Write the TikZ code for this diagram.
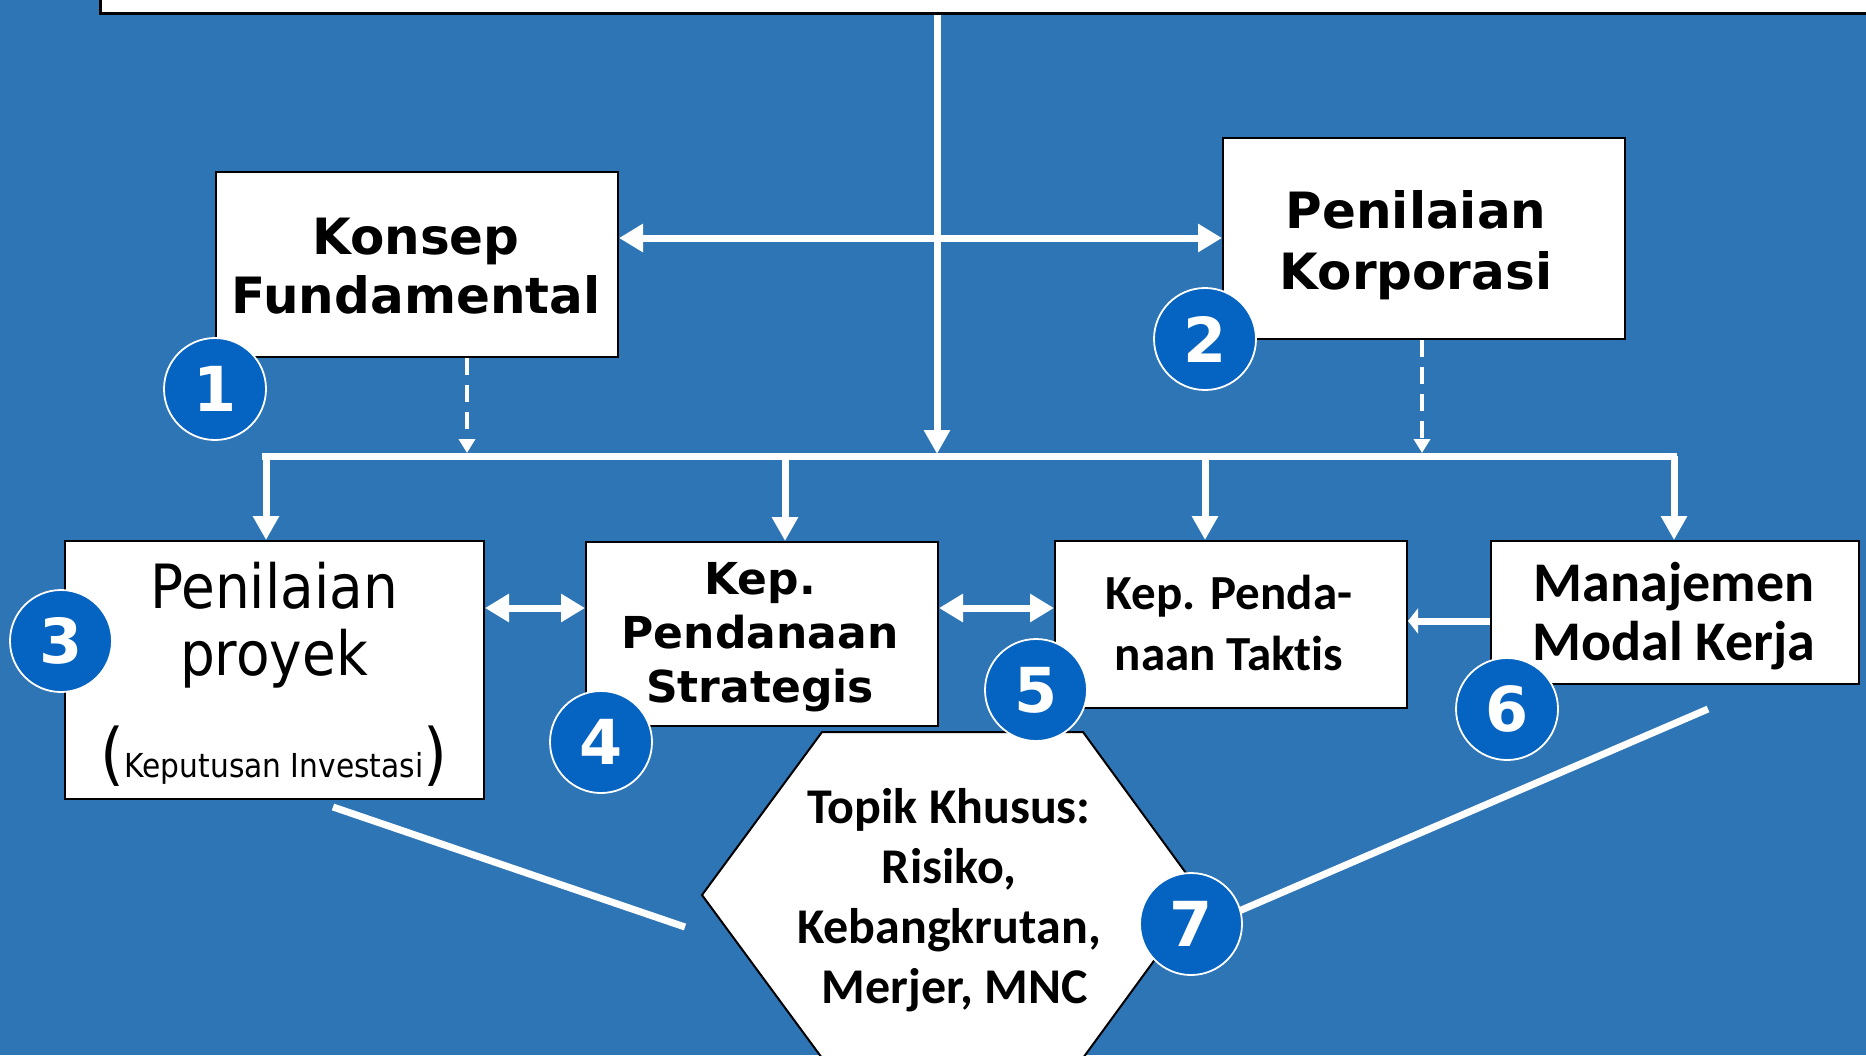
\documentclass[tikz,border=0pt]{standalone}
\usepackage{fontspec}
\setmainfont{DejaVu Sans}
\newfontfamily\narrowfont{DejaVu Sans}[FakeStretch=0.9]
\newfontfamily\calfont{Carlito}[Ligatures={NoCommon}]
\usetikzlibrary{arrows.meta}
\definecolor{bgblue}{RGB}{46,117,182}
\definecolor{numblue}{RGB}{5,99,193}
\newcommand{\fsz}[2]{\fontsize{#1}{#2}\selectfont}

\begin{document}
\begin{tikzpicture}[x=0.5pt,y=-0.5pt,
  box/.style={draw=black,line width=1pt,fill=white,inner sep=0pt,anchor=north west},
  label/.style={inner sep=0pt,align=center,text=black},
  num/.style={circle,draw=white,line width=0.9pt,fill=numblue,text=white,
    minimum size=51pt,inner sep=0pt,font=\fsz{31}{31}\bfseries},
  flow/.style={draw=white,line width=3.5pt},
  tip/.style={-{Triangle[width=12.5pt,length=12pt]}},
  dtip/.style={{Triangle[width=13.5pt,length=12pt]}-{Triangle[width=13.5pt,length=12pt]}},
  shorttip/.style={-{Triangle[width=12.5pt,length=5pt]}},
  dashflow/.style={draw=white,line width=2pt,dash pattern=on 8.5pt off 5pt,
    -{Triangle[width=8pt,length=7pt]}}]

% canvas
\useasboundingbox (0,0) rectangle (1866,1055);
\clip (0,0) rectangle (1866,1055);
\fill[bgblue] (0,0) rectangle (1866,1055);

% boxes
\node[box,line width=1.5pt,minimum width=901pt,minimum height=21pt] (head) at (99,-30) {};
\node[box,minimum width=201pt,minimum height=92.5pt] (konsep) at (215,171) {};
\node[box,minimum width=201pt,minimum height=100.5pt] (korp) at (1222,137) {};
\node[box,minimum width=209.5pt,minimum height=129pt] (proyek) at (64,540) {};
\node[box,minimum width=176pt,minimum height=92pt] (strat) at (585,541) {};
\node[box,minimum width=176pt,minimum height=83.5pt] (taktis) at (1054,540) {};
\node[box,minimum width=184pt,minimum height=71.5pt] (modal) at (1490,540) {};

% hexagon
\filldraw[fill=white,draw=black,line width=1pt]
  (822,732) -- (1083,732) -- (1202,895) -- (1083,1058) -- (822,1058) -- (702,895) -- cycle;

% box texts
\node[label,font=\fsz{25}{29.5}\bfseries] (tkonsep) at (416,266) {Konsep\\Fundamental};
\node[label,font=\fsz{25}{30.5}\bfseries] (tkorp) at (1416,245) {Penilaian\\Korporasi};
\node[label,font=\narrowfont\fsz{30.5}{33.5}] (tproyek) at (274,625) {Penilaian\\proyek};
\node[label,anchor=base] (tinvest) at (274,777)
  {{\narrowfont\fsz{34}{36}(}{\narrowfont\fsz{16.5}{18}Keputusan Investasi}{\narrowfont\fsz{34}{36})}};
\node[label,font=\fsz{22}{27}\bfseries] (tstrat) at (760,637) {Kep.\\Pendanaan\\Strategis};
\node[label,font=\calfont\fsz{24.5}{30.5}\bfseries] (ttaktis) at (1229,623) {Kep. Penda-\\naan Taktis};
\node[label,font=\calfont\fsz{28}{29.5}\bfseries] (tmodal) at (1674,616) {Manajemen\\Modal Kerja};
\node[label,font=\calfont\fsz{25}{30}\bfseries] (ttopik) at (949,900)
  {Topik Khusus:\\Risiko,\\Kebangkrutan,\\\ Merjer, MNC};

% connector anchors
\coordinate (busL) at (262,456);
\coordinate (busR) at (1677,456);
\coordinate (mainEnd) at (937,454);
\coordinate (d3) at (266,456);
\coordinate (d4) at (785,456);
\coordinate (d5) at (1205,456);
\coordinate (d6) at (1674,456);
\coordinate (dk1) at (467,453);
\coordinate (dk2) at (1422,453);
\coordinate (hk) at (0,238);
\coordinate (h34) at (0,608);
\coordinate (h45) at (0,608);
\coordinate (h65) at (0,621);

% connectors
\draw[flow,dtip] (konsep.east |- hk) -- (korp.west |- hk);
\draw[flow] (busL) -- (busR);
\draw[flow,tip] (head.south -| mainEnd) -- (mainEnd);
\draw[dashflow] (konsep.south -| dk1) -- (dk1);
\draw[dashflow] (korp.south -| dk2) -- (dk2);
\draw[flow,tip] (d3) -- (d3 |- proyek.north);
\draw[flow,tip] (d4) -- (d4 |- strat.north);
\draw[flow,tip] (d5) -- (d5 |- taktis.north);
\draw[flow,tip] (d6) -- (d6 |- modal.north);
\draw[flow,dtip] (proyek.east |- h34) -- (strat.west |- h34);
\draw[flow,dtip] (strat.east |- h45) -- (taktis.west |- h45);
\draw[flow,shorttip] (modal.west |- h65) -- (taktis.east |- h65);

% lines toward the special topics
\coordinate (lA) at (333,807);
\coordinate (lB) at (685,927);
\coordinate (rA) at (1239,911);
\coordinate (rB) at (1708,709);
\draw[flow] (lA) -- (lB);
\draw[flow] (rA) -- (rB);

% numbered badges
\node[num] (n1) at (215,389) {1};
\node[num] (n2) at (1205,339) {2};
\node[num] (n3) at (61,641) {3};
\node[num] (n4) at (601,742) {4};
\node[num] (n5) at (1036,690) {5};
\node[num] (n6) at (1507,709) {6};
\node[num] (n7) at (1191,924) {7};
\end{tikzpicture}
\end{document}
